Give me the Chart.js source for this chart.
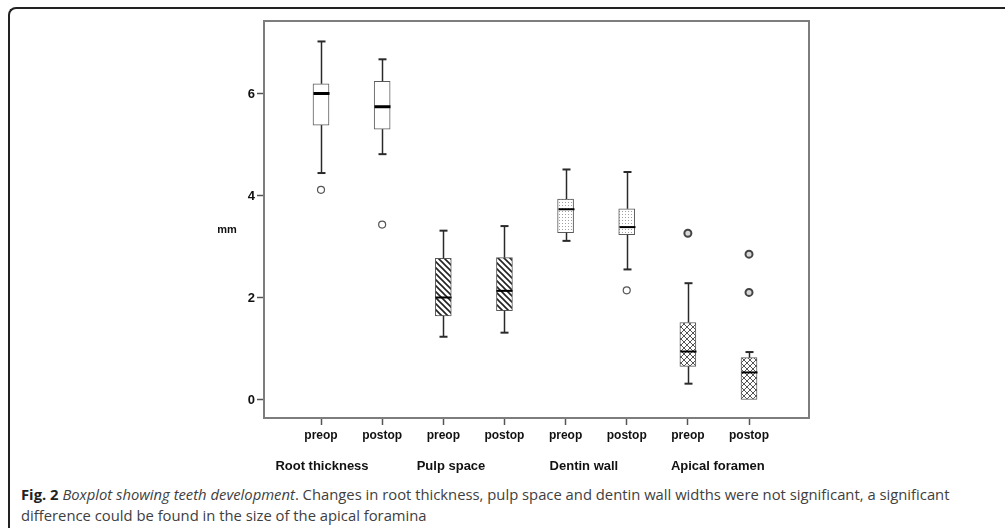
<!DOCTYPE html>
<html>
<head>
<meta charset="utf-8">
<script src="https://cdn.jsdelivr.net/npm/chart.js@4.4.1/dist/chart.umd.min.js"></script>
<style>
  html, body { margin: 0; padding: 0; background: #fff; width: 1005px; height: 528px; overflow: hidden; }
  #frame { position: absolute; left: 8px; top: 7px; width: 1100px; height: 600px;
           border-top: 2px solid #222; border-left: 2px solid #222; border-top-left-radius: 8px; }
  #wrap { position: absolute; left: 0; top: 0; width: 1005px; height: 480px; }
  #cap { position: absolute; left: 21px; top: 484px; font-family: "Open Sans", sans-serif; font-size: 14.8px;
         line-height: 21px; color: #404040; white-space: nowrap; }
  #cap b { color: #222; }
</style>
</head>
<body>
<div id="frame"></div>
<div id="wrap"><canvas id="c" width="1005" height="480"></canvas></div>
<div id="cap"><b>Fig. 2</b> <i>Boxplot showing teeth development</i>. Changes in root thickness, pulp space and dentin wall widths were not significant, a significant<br>difference could be found in the size of the apical foramina</div>
<script>
// ---- data ----
const categories = ['preop', 'postop', 'preop', 'postop', 'preop', 'postop', 'preop', 'postop'];
const groups = ['Root thickness', 'Pulp space', 'Dentin wall', 'Apical foramen'];
const whiskerLow  = [4.45, 4.82, 1.24, 1.32, 3.12, 2.56, 0.32, 0.00];
const q1          = [5.39, 5.31, 1.65, 1.75, 3.28, 3.24, 0.66, 0.00];
const median      = [6.01, 5.75, 2.01, 2.14, 3.74, 3.39, 0.95, 0.54];
const q3          = [6.20, 6.25, 2.78, 2.79, 3.94, 3.75, 1.52, 0.83];
const whiskerHigh = [7.03, 6.68, 3.32, 3.41, 4.52, 4.47, 2.29, 0.94];
const outliers    = [[4.12], [3.44], [], [], [], [2.15], [], []];
const extremes    = [[], [], [], [], [], [], [3.27], [2.86, 2.11]];
const yTicks = [0, 2, 4, 6];

// ---- layout / style ----
const groupCenters = [1.016, 3.126, 5.30, 7.49];
const fillKinds = ['plain', 'plain', 'hatch', 'hatch', 'dots', 'dots', 'cross', 'cross'];

function makePattern(kind) {
  const c = document.createElement('canvas');
  const x = c.getContext('2d');
  if (kind === 'plain') return '#ffffff';
  if (kind === 'hatch') {
    c.width = 6; c.height = 6;
    x.fillStyle = '#fff'; x.fillRect(0, 0, 6, 6);
    x.strokeStyle = '#222'; x.lineWidth = 1.6;
    x.beginPath();
    x.moveTo(-1, -1); x.lineTo(7, 7);
    x.moveTo(-1, 5); x.lineTo(1, 7);
    x.moveTo(5, -1); x.lineTo(7, 1);
    x.stroke();
  } else if (kind === 'dots') {
    c.width = 3; c.height = 3;
    x.fillStyle = '#fff'; x.fillRect(0, 0, 3, 3);
    x.fillStyle = '#a0a0a0'; x.fillRect(1, 1, 1, 1);
  } else {
    c.width = 6; c.height = 6;
    x.fillStyle = '#fff'; x.fillRect(0, 0, 6, 6);
    x.strokeStyle = '#555'; x.lineWidth = 1;
    x.beginPath();
    x.moveTo(0, 0); x.lineTo(6, 6);
    x.moveTo(6, 0); x.lineTo(0, 6);
    x.stroke();
  }
  return x.createPattern(c, 'repeat');
}

const boxData = categories.map((c, i) => ({ x: i + 1, y: [q1[i], q3[i]] }));
const outData = [];
outliers.forEach((arr, i) => arr.forEach(v => outData.push({ x: i + 1, y: v })));
const extData = [];
extremes.forEach((arr, i) => arr.forEach(v => extData.push({ x: i + 1, y: v })));

const boxPlugin = {
  id: 'boxparts',
  afterDatasetsDraw(chart) {
    const ctx = chart.ctx;
    const xs = chart.scales.x, ys = chart.scales.y;
    const half = 8, cap = 4;
    ctx.save();
    categories.forEach((c, i) => {
      const px = Math.round(xs.getPixelForValue(i + 1)) + 0.5;
      ctx.strokeStyle = '#2a2a2a';
      const segs = [[whiskerHigh[i], q3[i]], [whiskerLow[i], q1[i]]];
      segs.forEach(([w, q]) => {
        if (Math.abs(w - q) < 1e-6) return;
        const wy = ys.getPixelForValue(w), qy = ys.getPixelForValue(q);
        ctx.lineWidth = 1.5;
        ctx.beginPath(); ctx.moveTo(px, wy); ctx.lineTo(px, qy); ctx.stroke();
        ctx.lineWidth = 2;
        ctx.beginPath(); ctx.moveTo(px - cap, wy); ctx.lineTo(px + cap, wy); ctx.stroke();
      });
      const my = ys.getPixelForValue(median[i]);
      ctx.strokeStyle = '#000';
      ctx.lineWidth = i < 2 ? 3 : 2;
      ctx.beginPath(); ctx.moveTo(px - half, my); ctx.lineTo(px + half, my); ctx.stroke();
    });
    const a = chart.chartArea;
    ctx.strokeStyle = '#7d7d7d';
    ctx.lineWidth = 2;
    ctx.strokeRect(a.left, a.top, a.right - a.left, a.bottom - a.top);
    ctx.fillStyle = '#111';
    ctx.font = 'bold 13px "Liberation Sans", Arial, sans-serif';
    ctx.textAlign = 'center';
    ctx.textBaseline = 'middle';
    groups.forEach((g, k) => ctx.fillText(g, xs.getPixelForValue(groupCenters[k]), 466));
    ctx.font = 'bold 11px "Liberation Sans", Arial, sans-serif';
    ctx.fillText('mm', 227, ys.getPixelForValue(3.33));
    ctx.restore();
  }
};

new Chart(document.getElementById('c'), {
  type: 'bar',
  data: {
    datasets: [
      {
        type: 'bar',
        data: boxData,
        backgroundColor: fillKinds.map(makePattern),
        borderColor: '#5a5a5a',
        borderWidth: 1,
        borderSkipped: false,
        barThickness: 16,
        grouped: false,
        order: 2
      },
      {
        type: 'scatter',
        data: outData,
        pointRadius: 3.5,
        pointBackgroundColor: '#fff',
        pointBorderColor: '#555',
        pointBorderWidth: 1.2,
        order: 1
      },
      {
        type: 'scatter',
        data: extData,
        pointRadius: 3.5,
        pointBackgroundColor: '#d8d8d8',
        pointBorderColor: '#444',
        pointBorderWidth: 2,
        order: 1
      }
    ]
  },
  options: {
    responsive: false,
    devicePixelRatio: 1,
    animation: false,
    events: [],
    layout: { padding: { left: 204, right: 196, top: 21, bottom: 22 } },
    plugins: { legend: { display: false }, tooltip: { enabled: false } },
    scales: {
      x: {
        type: 'linear',
        offset: false,
        min: 0.0677,
        max: 8.981,
        afterBuildTicks: s => { s.ticks = categories.map((c, i) => ({ value: i + 1 })); },
        afterFit: s => { s.height = 40; },
        border: { display: false },
        grid: { offset: false, drawOnChartArea: false, drawTicks: true, tickLength: 7, tickColor: '#555', tickWidth: 1.5 },
        ticks: {
          autoSkip: false, maxRotation: 0, padding: 3, color: '#111',
          font: { family: '"Liberation Sans Narrow", "Liberation Sans", Arial, sans-serif', size: 12, weight: 'bold' },
          callback: (v) => categories[Math.round(v) - 1]
        }
      },
      y: {
        type: 'linear',
        min: -0.353,
        max: 7.431,
        afterBuildTicks: s => { s.ticks = yTicks.map(v => ({ value: v })); },
        afterFit: s => { s.width = 60; },
        border: { display: false },
        grid: { drawOnChartArea: false, drawTicks: true, tickLength: 7, tickColor: '#555', tickWidth: 1.5 },
        ticks: {
          padding: 2, color: '#111',
          font: { family: '"Liberation Sans Narrow", "Liberation Sans", Arial, sans-serif', size: 13, weight: 'bold' }
        }
      }
    }
  },
  plugins: [boxPlugin]
});
</script>
</body>
</html>
